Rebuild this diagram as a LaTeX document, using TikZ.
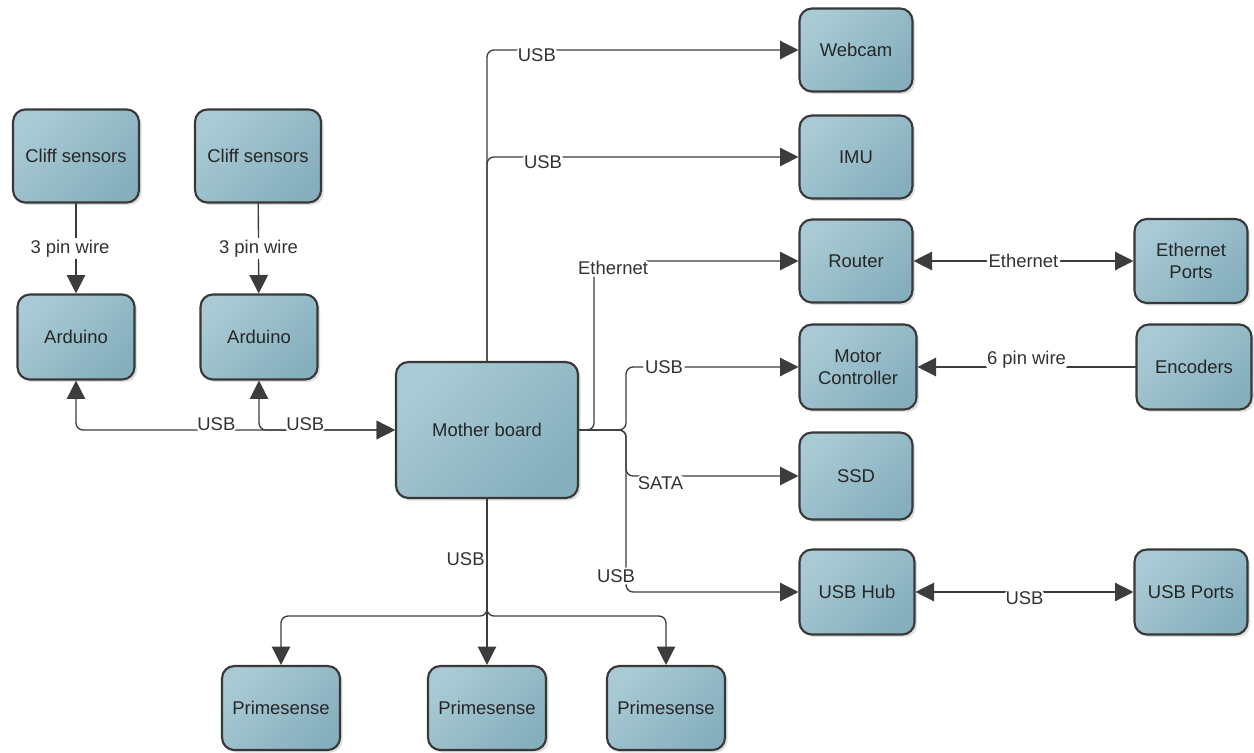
\documentclass[tikz,border=0pt]{standalone}
\usepackage{fontspec}
\setmainfont{Liberation Sans}
\usetikzlibrary{arrows.meta,shadows}
\definecolor{boxlight}{HTML}{A9CAD4}
\definecolor{boxdark}{HTML}{86AFBE}
\definecolor{edgegray}{HTML}{383838}
\definecolor{wiregray}{HTML}{3C3C3C}

\begin{document}
\begin{tikzpicture}[x=0.02cm, y=-0.02cm, line cap=round, line join=round,
    font=\fontsize{10.5}{12.5}\selectfont,
    block/.style={draw=edgegray, line width=1.2pt, rounded corners=7pt,
        left color=boxlight, right color=boxdark, shading angle=45,
        drop shadow={shadow xshift=1.5pt, shadow yshift=-1.5pt, opacity=0.25},
        minimum width=2.26cm, minimum height=1.66cm, align=center, text=black!85},
    wire/.style={draw=wiregray, line width=0.75pt, rounded corners=4pt},
    arr/.style={wire, -{Triangle[width=10.5pt,length=10.5pt]}},
    biarr/.style={wire, {Triangle[width=10.5pt,length=10.5pt]}-{Triangle[width=10.5pt,length=10.5pt]}},
    lbl/.style={fill=white, inner sep=1pt, text=black!80}]

                \useasboundingbox (0,0) rectangle (1254,753);

                \node[block, minimum width=2.52cm, minimum height=1.86cm] (cliffa) at (76,156) {Cliff sensors};
                \node[block, minimum width=2.52cm, minimum height=1.86cm] (cliffb) at (258,156) {Cliff sensors};
                \node[block, minimum width=2.34cm, minimum height=1.7cm] (arda) at (76,337) {Arduino};
                \node[block, minimum width=2.34cm, minimum height=1.7cm] (ardb) at (259,337) {Arduino};

                \node[block, minimum width=3.64cm, minimum height=2.72cm] (mb) at (487,430) {Mother board};

                \node[block] (webcam) at (856,50) {Webcam};
                \node[block] (imu) at (856,157) {IMU};
                \node[block] (router) at (856,261) {Router};
                \node[block, minimum width=2.34cm, minimum height=1.7cm] (mc) at (858,367) {Motor\\Controller};
                \node[block, minimum height=1.74cm] (ssd) at (856,476) {SSD};
                \node[block, minimum width=2.3cm, minimum height=1.7cm] (hub) at (857,592) {USB Hub};

                \node[block, minimum height=1.68cm] (ethp) at (1191,261) {Ethernet\\Ports};
                \node[block, minimum width=2.3cm, minimum height=1.7cm] (enc) at (1194,367) {Encoders};
                \node[block, minimum height=1.7cm] (usbp) at (1191,592) {USB Ports};

                \node[block, minimum width=2.36cm, minimum height=1.68cm] (psa) at (281,708) {Primesense};
                \node[block, minimum width=2.36cm, minimum height=1.68cm] (psb) at (487,708) {Primesense};
                \node[block, minimum width=2.36cm, minimum height=1.68cm] (psc) at (666,708) {Primesense};

                \draw[arr] (cliffa) -- node[lbl, shift={(-6,0)}] {3 pin wire} (arda);
                \draw[arr] (cliffb) -- node[lbl] {3 pin wire} (ardb);
                \draw[biarr] (arda) |- node[lbl, pos=0.72, shift={(0,-6)}] {USB} (mb);
                \draw[biarr] (ardb) |- node[lbl, pos=0.67, shift={(0,-6)}] {USB} (mb);

                \draw[arr] (mb) |- node[lbl, pos=0.58, shift={(0,5)}] {USB} (webcam);
                \draw[arr] (mb) |- node[lbl, pos=0.59, shift={(0,5)}] {USB} (imu);
                \draw[arr] (mb.east) -- ++(15,0) |- node[lbl, pos=0.5, shift={(19,7)}] {Ethernet} (router);
                \draw[arr] (mb.east) -- ++(47,0) |- node[lbl, pos=0.61] {USB} (mc);
                \draw[arr] (mb.east) -- ++(47,0) |- node[lbl, pos=0.6, shift={(0,7)}] {SATA} (ssd);
                \draw[arr] (mb.east) -- ++(47,0) |- node[lbl, pos=0.5, shift={(-10,-16)}] {USB} (hub);

                \draw[arr] (mb) -- node[lbl, pos=0.36, left] {USB} (psb);
                \draw[arr] (mb.south) -- ++(0,117) -| (psa);
                \draw[arr] (mb.south) -- ++(0,117) -| (psc);

                \draw[biarr] (router) -- node[lbl] {Ethernet} (ethp);
                \draw[arr] (enc) -- node[lbl, shift={(0,-7)}] {6 pin wire} (mc);
                \draw[biarr] (hub) -- node[lbl, shift={(0,6)}] {USB} (usbp);

            \end{tikzpicture}
\end{document}
